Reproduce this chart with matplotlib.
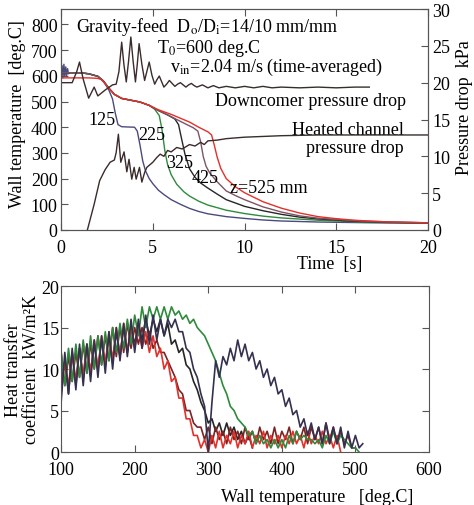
import matplotlib.pyplot as plt

plt.rcParams['font.family'] = ['Liberation Serif', 'DejaVu Serif']
plt.rcParams['mathtext.fontset'] = 'stix'

# ---- top panel: wall temperature vs time (left), pressure drops (right) ----
t_125 = [0, 0.05, 0.1, 0.15, 0.2, 0.25, 0.3, 0.35, 0.4, 0.5, 1.0, 1.5, 2.0, 2.3, 2.6, 2.8,
         2.95, 3.1, 3.3, 3.6, 4.0, 4.15, 4.3, 4.45, 4.6, 4.8, 5.0, 5.3, 5.6, 6.0, 6.5, 7.0,
         7.5, 8.0, 9.0, 10.0, 11.0, 12.0, 14.0, 16.0, 18.0, 20.0]
T_125 = [600, 640, 592, 645, 598, 635, 600, 628, 608, 612, 612, 608, 598, 580, 545, 510,
         455, 410, 402, 401, 400, 385, 330, 268, 230, 200, 180, 155, 138, 118, 100, 84,
         72, 63, 52, 45, 39, 35, 31, 29, 27, 26]

t_225 = [0, 0.5, 1.0, 1.5, 2.0, 2.3, 2.6, 2.9, 3.3, 3.8, 4.3, 4.8, 5.1, 5.35, 5.5, 5.65,
         5.8, 6.0, 6.3, 6.7, 7.0, 7.5, 8.0, 9.0, 10.0, 11.0, 12.0, 14.0, 16.0, 18.0, 20.0]
T_225 = [612, 612, 612, 608, 598, 580, 552, 528, 512, 505, 498, 485, 470, 445, 390, 310,
         255, 215, 178, 148, 132, 112, 97, 77, 64, 54, 47, 38, 32, 29, 27]

t_325 = [0, 0.5, 1.0, 1.5, 2.0, 2.3, 2.6, 2.9, 3.3, 3.8, 4.3, 4.8, 5.3, 5.8, 6.2, 6.4,
         6.55, 6.75, 7.0, 7.3, 7.6, 8.0, 8.5, 9.0, 10, 11, 12, 13, 14, 16, 18, 20]
T_325 = [612, 612, 612, 608, 598, 580, 552, 528, 512, 505, 498, 485, 465, 448, 432, 410,
         360, 295, 238, 205, 183, 163, 140, 118, 92, 75, 61, 50, 43, 34, 30, 28]

t_425 = [0, 0.5, 1.0, 1.5, 2.0, 2.3, 2.6, 2.9, 3.3, 3.8, 4.3, 4.8, 5.3, 5.8, 6.3, 6.8,
         7.2, 7.45, 7.6, 7.75, 7.9, 8.1, 8.5, 9.0, 9.5, 10, 11, 12, 13, 14, 16, 18, 20]
T_425 = [612, 612, 612, 608, 598, 580, 552, 528, 512, 505, 498, 485, 465, 448, 430, 412,
         398, 385, 345, 285, 248, 222, 188, 152, 134, 118, 90, 70, 55, 46, 36, 31, 28]

t_525 = [0, 0.5, 1.0, 1.5, 2.0, 2.2, 2.5, 2.9, 3.3, 3.8, 4.3, 4.8, 5.3, 6.0, 6.5, 7.0,
         7.5, 8.0, 8.2, 8.35, 8.5, 8.7, 9.0, 9.5, 10, 11, 12, 13, 14, 15, 16, 17, 18, 20]
T_525 = [592, 592, 592, 592, 590, 585, 560, 528, 512, 505, 498, 485, 468, 450, 435, 420,
         400, 382, 370, 330, 285, 240, 200, 168, 145, 110, 85, 66, 52, 44, 38, 34, 31, 28]

t_down = [0, 0.6, 0.85, 1.0, 1.2, 1.5, 1.8, 2.0, 2.4, 2.8, 3.0, 3.15, 3.3, 3.42, 3.55,
          3.67, 3.8, 3.92, 4.05, 4.15, 4.25, 4.4, 4.55, 4.67, 4.8, 4.95, 5.1, 5.22, 5.35,
          5.5, 5.6, 5.75, 5.9, 6.05, 6.2, 6.35, 6.5, 6.65, 6.8, 6.95, 7.1, 7.25, 7.4, 7.7,
          8.0, 8.3, 8.6, 9.0, 9.5, 10, 10.5, 11, 11.5, 12, 13, 14, 15, 16, 16.8]
p_down = [20.0, 20.0, 21.5, 22.8, 20.5, 17.9, 19.4, 18.2, 19.0, 19.7, 19.8, 21.5, 25.5,
          22.5, 20.1, 22.8, 26.2, 23.0, 20.1, 22.5, 25.3, 22.5, 20.3, 21.5, 22.8, 21.0,
          19.8, 20.4, 20.9, 20.0, 19.4, 19.8, 20.3, 19.9, 19.5, 19.8, 20.0, 19.7, 19.4,
          19.7, 19.9, 19.6, 19.4, 19.7, 19.3, 19.6, 19.3, 19.5, 19.3, 19.5, 19.3, 19.5,
          19.3, 19.4, 19.3, 19.4, 19.3, 19.4, 19.4]

t_heat = [1.43, 1.8, 2.1, 2.4, 2.67, 2.9, 3.0, 3.12, 3.25, 3.43, 3.58, 3.7, 3.85, 3.98,
          4.09, 4.27, 4.4, 4.55, 4.67, 5.0, 5.2, 5.4, 5.6, 5.8, 6.0, 6.3, 6.6, 7.0, 7.3,
          7.6, 7.8, 8.0, 8.5, 9, 10, 11, 12, 13, 14, 16, 18, 20]
p_heat = [0, 3.5, 6.7, 8.2, 9.2, 9.5, 10.5, 13.0, 9.2, 10.6, 7.9, 9.6, 6.9, 8.5, 6.9, 8.5,
          6.5, 7.8, 8.5, 9.2, 9.8, 10.3, 10.0, 10.8, 10.6, 11.2, 11.0, 11.6, 11.4, 11.9,
          11.6, 12.1, 12.2, 12.4, 12.6, 12.7, 12.8, 12.85, 12.9, 12.9, 12.9, 12.9]

# ---- bottom panel: heat transfer coefficient vs wall temperature ----
wall_T = [100, 105, 110, 115, 120, 125, 130, 135, 140, 145,
          150, 155, 160, 165, 170, 175, 180, 185, 190, 195,
          200, 205, 210, 215, 220, 225, 230, 235, 240, 245,
          250, 255, 260, 265, 270, 275, 280, 285, 290, 295,
          300, 305, 310, 315, 320, 325, 330, 335, 340, 345,
          350, 355, 360, 365, 370, 375, 380, 385, 390, 395,
          400, 405, 410, 415, 420, 425, 430, 435, 440, 445,
          450, 455, 460, 465, 470, 475, 480, 485, 490, 495,
          500, 505, 510]

htc_125 = [6, 12, 7, 12.5, 7.5, 13, 8, 13, 8.5, 13.5,
           9, 14, 9.5, 14.5, 10, 15, 11, 15.5, 11.5, 16,
           12, 16, 12.5, 16.5, 13, 16.5, 13.5, 16, 14, 16,
           15, 16, 14.5, 14.5, 12.5, 12, 10, 9, 7, 5.5,
           0, 6, 11, 9, 11.5, 10.5, 12.5, 11, 13.5, 11.5,
           13, 11, 12, 10, 11, 9, 10, 8, 9, 7,
           7.5, 5.5, 6.5, 4.5, 5, 3, 4, 2, 3.5, 1.5,
           3, 1, 3.5, 1, 3, 1, 3, 0.5, 2.5, 0.5,
           2, 0.5, 1]

htc_225 = [12, 8, 12.5, 8.5, 13, 9, 13.5, 9.5, 14, 10,
           14, 10.5, 14.5, 11, 15, 12, 15.5, 12.5, 16, 13,
           16.5, 14, 17.5, 15, 17.5, 16, 17.5, 16, 17.5, 16,
           17.5, 16.5, 17, 16, 16.5, 15.5, 16, 15, 14.5, 14,
           13, 12, 11, 9.5, 8, 7, 5.5, 5, 4, 3.5,
           3, 2, 2.5, 1, 2, 1, 1.5, 0.5, 1.5, 0.5,
           1.5, 0.5, 2, 1, 2.5, 1.5, 2, 1.5, 1.5, 1,
           1.5, 0.5, 2, 1, 2.5, 1, 2, 1.5, 1, 0.5,
           0.5, 0]

htc_325 = [8, 11, 7, 12, 8, 12.5, 9, 13, 9.5, 13,
           10, 13.5, 10.5, 14, 11, 14.5, 11.5, 15, 12, 15,
           13, 15.5, 13.5, 16, 14, 16, 14.5, 16, 14, 15.5,
           13, 13.5, 12, 12.5, 10.5, 10, 8.5, 7.5, 6, 5,
           3.5, 4, 2.5, 3.5, 2, 3.5, 2, 3, 1.5, 2.5,
           1, 2, 0.5]

htc_425 = [12, 8, 11.5, 8.5, 12, 9, 13, 9.5, 13, 10,
           14, 10.5, 14, 11, 15, 11.5, 15, 12, 15.5, 12.5,
           15, 13, 15, 13, 14.5, 12.5, 13.5, 12, 12, 11,
           10, 9, 7.5, 7, 5, 5, 3.5, 3, 3, 1.5,
           3, 1, 3, 1.5, 2.5, 1, 3, 1.5, 2.5, 1,
           3, 1.5, 2.5, 1, 3, 1.5, 2.5, 1, 3, 1,
           2.5, 1.5, 3, 1, 2.5, 1.5, 3, 1, 3, 1.5,
           3, 1, 3.5, 1.5, 3, 1, 2.5, 1, 2, 0.5,
           0.5]

htc_525 = [7, 11, 8, 12, 8.5, 12.5, 9, 13, 9.5, 13.5,
           10, 14, 10.5, 14.5, 11, 15, 11.5, 15.5, 12, 15,
           12.5, 15, 12.5, 14.5, 12, 14, 11.5, 12.5, 10, 11,
           8.5, 9, 6.5, 6.5, 4, 4, 2, 2, 0.5, 1.5,
           0, 2, 0.5, 2.5, 0.5, 2, 1, 2.5, 0.5, 2,
           1, 2.5, 0.5, 2, 1, 2.5, 0.5, 2, 1, 2,
           0.5, 2, 1, 2.5, 1, 2, 0.5, 2.5, 1, 2,
           1, 2.5, 1, 2, 0.5, 2, 0]

c_125 = '#4b4a7e'
c_225 = '#2f8a3c'
c_325 = '#262626'
c_425 = '#7d5466'
c_525 = '#e2302a'
c_p = '#3b2b2b'
spine_c = '#555555'
fs = 13

fig = plt.figure(figsize=(4.74, 5.06), dpi=100)

ax1 = fig.add_axes([0.129, 0.5435, 0.774, 0.4367])
ax1.plot(t_125, T_125, color=c_125, lw=1.0)
ax1.plot(t_225, T_225, color=c_225, lw=1.0)
ax1.plot(t_325, T_325, color=c_325, lw=1.0)
ax1.plot(t_425, T_425, color=c_425, lw=1.0)
ax1.plot(t_525, T_525, color=c_525, lw=1.0)
ax1.set_xlim(0, 20)
ax1.set_ylim(0, 860)
ax1.set_xticks([0, 5, 10, 15, 20])
ax1.set_yticks(range(0, 900, 100))
ax1.tick_params(direction='in', length=5, labelsize=fs, top=True, colors=spine_c,
                labelcolor='black')
ax1.tick_params(axis='y', pad=2.5)
ax1.tick_params(axis='x', pad=6.5)

ax1r = ax1.twinx()
ax1r.plot(t_down, p_down, color=c_p, lw=1.0)
ax1r.plot(t_heat, p_heat, color=c_p, lw=1.0)
ax1r.set_ylim(0, 30)
ax1r.set_yticks(range(0, 35, 5))
ax1r.tick_params(direction='in', length=5, labelsize=fs, colors=spine_c,
                 labelcolor='black', pad=3)
for ax in (ax1, ax1r):
    for s in ax.spines.values():
        s.set_color(spine_c)

ax1.text(0.82, 776, r'Gravity-feed  D$_\mathrm{o}$/D$_\mathrm{i}$=14/10 mm/mm', fontsize=fs, va='baseline')
ax1.text(5.23, 694, r'T$_0$=600 deg.C', fontsize=fs, va='baseline')
ax1.text(5.94, 620, r'v$_\mathrm{in}$=2.04 m/s (time-averaged)', fontsize=fs, va='baseline')
ax1.text(8.39, 487, 'Downcomer pressure drop', fontsize=fs, va='baseline')
ax1.text(18.69, 374, 'Heated channel', fontsize=fs, va='baseline', ha='right')
ax1.text(18.69, 302, 'pressure drop', fontsize=fs, va='baseline', ha='right')
ax1.text(2.23, 413, '125', fontsize=fs, va='baseline', ha='center')
ax1.text(4.2, 355, '225', fontsize=fs, va='baseline')
ax1.text(5.72, 245, '325', fontsize=fs, va='baseline')
ax1.text(7.14, 187, '425', fontsize=fs, va='baseline')
ax1.text(9.21, 148, 'z=525 mm', fontsize=fs, va='baseline')

fig.text(0.696, 0.478, 'Time  [s]', fontsize=fs, ha='center', va='center')
fig.text(0.036, 0.775, 'Wall temperature  [deg.C]', fontsize=fs, ha='center', va='center', rotation=90)
fig.text(0.981, 0.787, 'Pressure drop  kPa', fontsize=fs, ha='center', va='center', rotation=90)

ax2 = fig.add_axes([0.129, 0.1047, 0.776, 0.328])
ax2.plot(wall_T[:len(htc_325)], htc_325, color=c_325, lw=1.2)
ax2.plot(wall_T[:len(htc_425)], htc_425, color='#7a2424', lw=1.2)
ax2.plot(wall_T[:len(htc_525)], htc_525, color=c_525, lw=1.2)
ax2.plot(wall_T[:len(htc_225)], htc_225, color=c_225, lw=1.2)
ax2.plot(wall_T[:len(htc_125)], htc_125, color='#35304f', lw=1.2)
ax2.set_xlim(100, 600)
ax2.set_ylim(0, 20)
ax2.set_xticks(range(100, 700, 100))
ax2.set_yticks(range(0, 25, 5))
ax2.tick_params(direction='in', length=5, labelsize=fs, top=True, right=True,
                colors=spine_c, labelcolor='black')
ax2.tick_params(axis='y', pad=1.5)
ax2.tick_params(axis='x', pad=6.5)
for s in ax2.spines.values():
    s.set_color(spine_c)

fig.text(0.669, 0.016, 'Wall temperature   [deg.C]', fontsize=fs, ha='center', va='center')
fig.text(0.047, 0.269, 'Heat transfer\ncoefficient  kW/m²K', fontsize=fs, ha='center',
         va='center', rotation=90, linespacing=1.05)

fig.savefig('out.png', dpi=100)
